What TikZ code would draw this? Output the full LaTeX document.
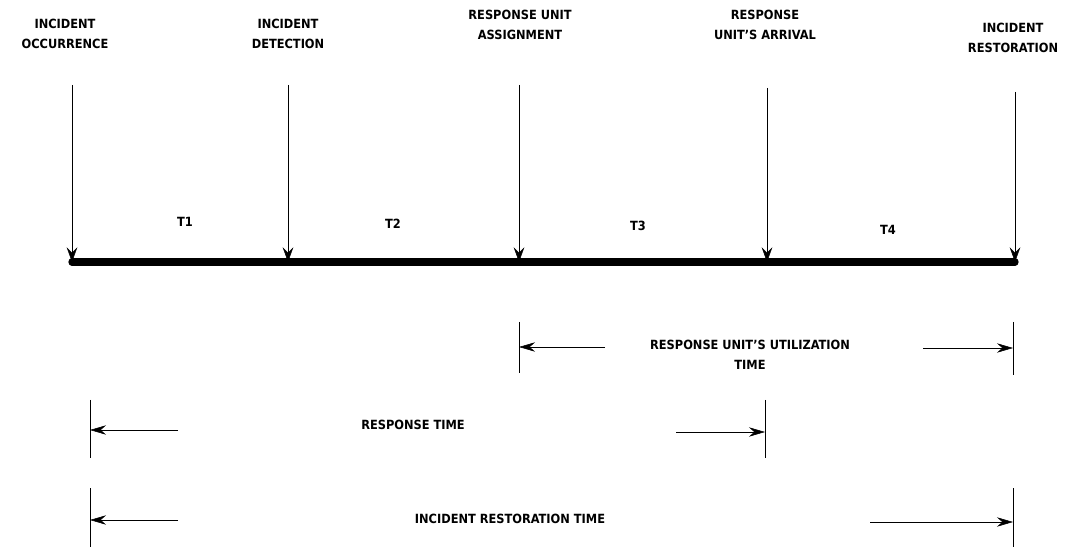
\documentclass[tikz,border=0pt]{standalone}
\usepackage{fontspec}
\setmainfont{DejaVu Sans Condensed}
\usetikzlibrary{arrows.meta}

\begin{document}
\begin{tikzpicture}[x=0.75pt, y=-0.75pt,
    etiqueta/.style={font=\fontsize{9.5}{15}\selectfont\bfseries, align=center, inner sep=0pt},
    evento/.style={thin, -{Stealth[length=11pt, width=8pt, inset=4pt]}},
    tramo/.style={thin, -{Stealth[length=12pt, width=7pt, inset=4pt]}},
    tope/.style={thin}]
\useasboundingbox (0,0) rectangle (1077,548);

                                % Eje de tiempo
                                \coordinate (e1) at (72,262);
                                \coordinate (e2) at (288,262);
                                \coordinate (e3) at (519,262);
                                \coordinate (e4) at (767,262);
                                \coordinate (e5) at (1015,262);
                                \draw[line width=5.5pt, line cap=round] (e1) -- (e5);

                                % Eventos (flechas verticales)
                                \coordinate (a1) at (72,85);
                                \coordinate (a2) at (288,85);
                                \coordinate (a3) at (519,85);
                                \coordinate (a4) at (767,88);
                                \coordinate (a5) at (1015,92);
                                \foreach \i in {1,...,5}
                                    \draw[evento] (a\i) -- (e\i);

                                % Nombres de los eventos
                                \node[etiqueta] (n1) at (65,34) {INCIDENT\\OCCURRENCE};
                                \node[etiqueta] (n2) at (288,34) {INCIDENT\\DETECTION};
                                \node[etiqueta] (n3) at (520,25) {RESPONSE UNIT\\ASSIGNMENT};
                                \node[etiqueta] (n4) at (765,25) {RESPONSE\\UNIT'S ARRIVAL};
                                \node[etiqueta] (n5) at (1013,38) {INCIDENT\\RESTORATION};

                                % Intervalos
                                \node[etiqueta] (t1) at (185,222) {T1};
                                \node[etiqueta] (t2) at (393,224) {T2};
                                \node[etiqueta] (t3) at (638,226) {T3};
                                \node[etiqueta] (t4) at (888,230) {T4};

                                % Tiempo de utilizacion de la unidad
                                \draw[tope] (519,322) -- (519,373);
                                \draw[tope] (1013,322) -- (1013,375);
                                \coordinate (u1) at (519,347);
                                \coordinate (u2) at (1013,348);
                                \node[etiqueta] (u) at (750,355) {RESPONSE UNIT'S UTILIZATION\\TIME};
                                \draw[tramo] (605,347) -- (u1);
                                \draw[tramo] (923,348) -- (u2);

                                % Tiempo de respuesta
                                \draw[tope] (90,400) -- (90,458);
                                \draw[tope] (765,400) -- (765,458);
                                \coordinate (r1) at (90,430);
                                \coordinate (r2) at (765,432);
                                \node[etiqueta] (r) at (413,425) {RESPONSE TIME};
                                \draw[tramo] (178,430) -- (r1);
                                \draw[tramo] (676,432) -- (r2);

                                % Tiempo de restauracion
                                \draw[tope] (90,488) -- (90,547);
                                \draw[tope] (1013,488) -- (1013,547);
                                \coordinate (s1) at (90,520);
                                \coordinate (s2) at (1013,522);
                                \node[etiqueta] (s) at (510,519) {INCIDENT RESTORATION TIME};
                                \draw[tramo] (178,520) -- (s1);
                                \draw[tramo] (870,522) -- (s2);
\end{tikzpicture}
\end{document}
